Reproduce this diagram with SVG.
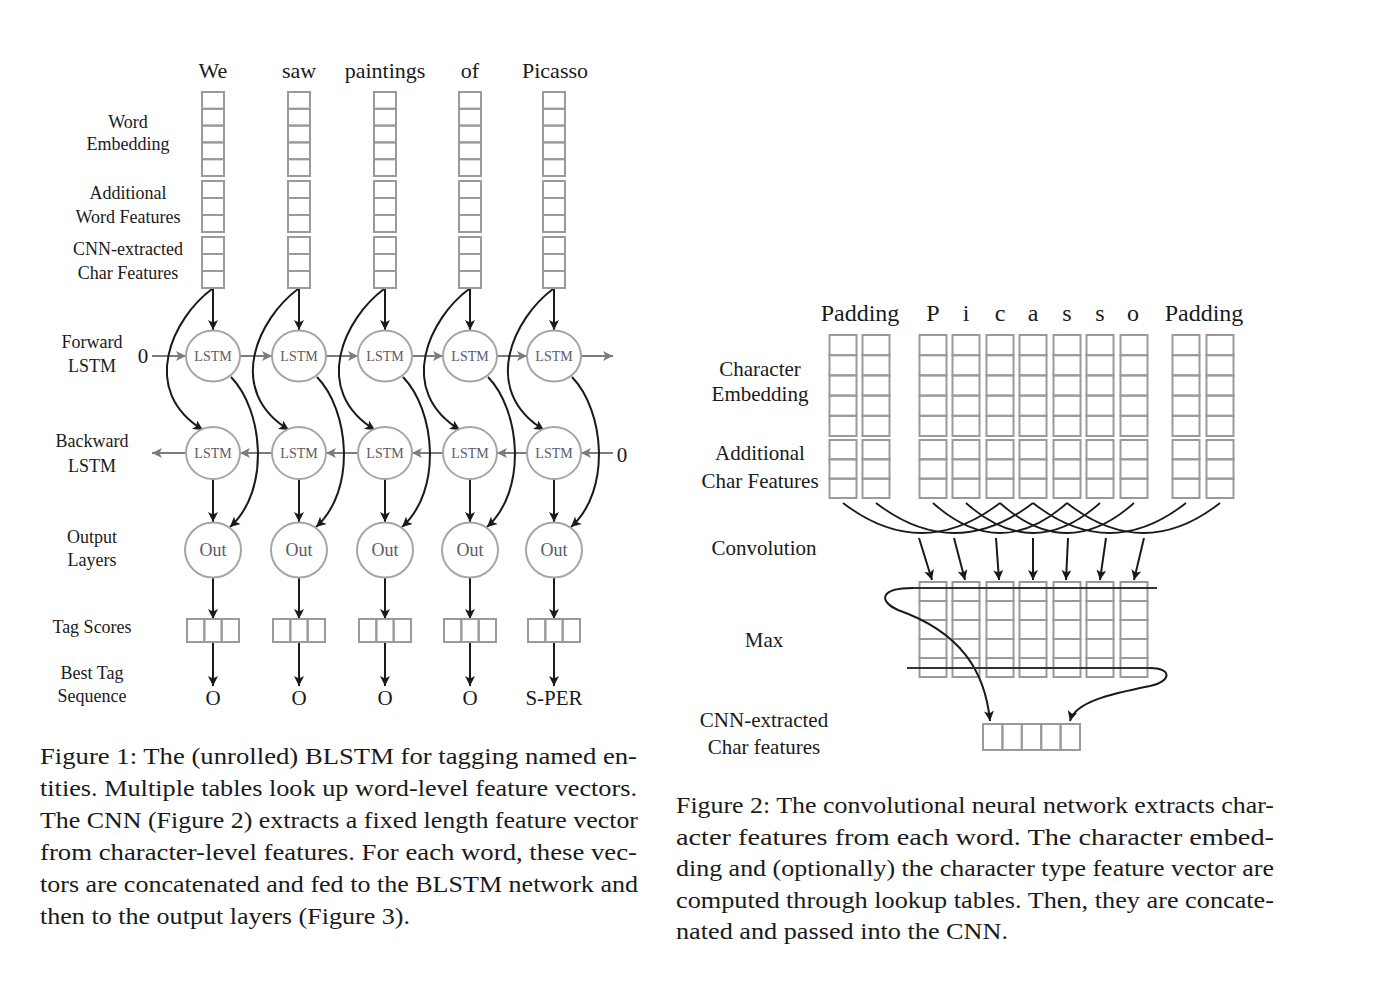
<svg xmlns="http://www.w3.org/2000/svg" xmlns:xlink="http://www.w3.org/1999/xlink" width="1390" height="982" viewBox="0 0 1390 982">
<style>
.cell{fill:none;stroke:#9a9a9a;stroke-width:2}
.node{fill:#fff;stroke:#a6a6a6;stroke-width:2}
.blk{fill:none;stroke:#1a1a1a;stroke-width:2;marker-end:url(#ab)}
.cv{fill:none;stroke:#1a1a1a;stroke-width:1.8}
.gry{fill:none;stroke:#7c7c7c;stroke-width:2;marker-end:url(#ag)}
.bar{fill:none;stroke:#333;stroke-width:2.2}
text{font-family:"Liberation Serif","DejaVu Serif",serif;fill:#1a1a1a}
.lab{font-size:18px;text-anchor:middle}
.rlab{font-size:21px;text-anchor:middle}
.wd{font-size:22px;text-anchor:middle}
.hd{font-size:24px;text-anchor:middle}
.in{font-size:14px;text-anchor:middle;fill:#5a5a6a}
.out{font-size:18px;text-anchor:middle;fill:#5a5a6a}
.tag{font-size:21px;text-anchor:middle}
.cap{font-size:23px}
</style>
<defs>
<marker id="ab" viewBox="0 0 10 10" refX="10" refY="5" markerWidth="11" markerHeight="10" markerUnits="userSpaceOnUse" orient="auto"><path d="M0,0 L10,5 L0,10 L2.5,5 z" fill="#1a1a1a"/></marker>
<marker id="ag" viewBox="0 0 10 10" refX="10" refY="5" markerWidth="11" markerHeight="10" markerUnits="userSpaceOnUse" orient="auto"><path d="M0,0 L10,5 L0,10 L2.5,5 z" fill="#7c7c7c"/></marker>
<g id="wcol">
<rect class="cell" x="-11" y="92" width="22" height="16.8"/><rect class="cell" x="-11" y="108.8" width="22" height="16.8"/><rect class="cell" x="-11" y="125.6" width="22" height="16.8"/><rect class="cell" x="-11" y="142.4" width="22" height="16.8"/><rect class="cell" x="-11" y="159.2" width="22" height="16.8"/>
<rect class="cell" x="-11" y="181" width="22" height="17"/><rect class="cell" x="-11" y="198" width="22" height="17"/><rect class="cell" x="-11" y="215" width="22" height="17"/>
<rect class="cell" x="-11" y="237" width="22" height="17"/><rect class="cell" x="-11" y="254" width="22" height="17"/><rect class="cell" x="-11" y="271" width="22" height="17"/>
</g>
<g id="tbox"><rect class="cell" x="-26" y="619" width="17.33" height="23"/><rect class="cell" x="-8.67" y="619" width="17.33" height="23"/><rect class="cell" x="8.67" y="619" width="17.33" height="23"/></g>
<g id="ccol">
<rect class="cell" x="-13.5" y="335" width="27" height="20.2"/><rect class="cell" x="-13.5" y="355.2" width="27" height="20.2"/><rect class="cell" x="-13.5" y="375.4" width="27" height="20.2"/><rect class="cell" x="-13.5" y="395.6" width="27" height="20.2"/><rect class="cell" x="-13.5" y="415.8" width="27" height="20.2"/>
<rect class="cell" x="-13.5" y="440" width="27" height="19.33"/><rect class="cell" x="-13.5" y="459.33" width="27" height="19.33"/><rect class="cell" x="-13.5" y="478.67" width="27" height="19.33"/>
</g>
<g id="mcol"><rect class="cell" x="-13.5" y="582" width="27" height="19"/><rect class="cell" x="-13.5" y="601" width="27" height="19"/><rect class="cell" x="-13.5" y="620" width="27" height="19"/><rect class="cell" x="-13.5" y="639" width="27" height="19"/><rect class="cell" x="-13.5" y="658" width="27" height="19"/></g>
</defs>

<!-- ===== Figure 1 ===== -->
<g id="words">
<text class="wd" x="213" y="78">We</text><text class="wd" x="299" y="78">saw</text><text class="wd" x="385" y="78">paintings</text><text class="wd" x="470" y="78">of</text><text class="wd" x="555" y="78">Picasso</text>
</g>
<g id="left-labels">
<text class="lab" x="128" y="128">Word</text><text class="lab" x="128" y="150">Embedding</text>
<text class="lab" x="128" y="199">Additional</text><text class="lab" x="128" y="223">Word Features</text>
<text class="lab" x="128" y="255">CNN-extracted</text><text class="lab" x="128" y="279">Char Features</text>
<text class="lab" x="92" y="348">Forward</text><text class="lab" x="92" y="372">LSTM</text>
<text class="lab" x="92" y="447">Backward</text><text class="lab" x="92" y="472">LSTM</text>
<text class="lab" x="92" y="543">Output</text><text class="lab" x="92" y="566">Layers</text>
<text class="lab" x="92" y="633">Tag Scores</text>
<text class="lab" x="92" y="679">Best Tag</text><text class="lab" x="92" y="702">Sequence</text>
<text class="tag" x="143" y="363">0</text><text class="tag" x="622" y="462">0</text>
</g>

<g id="connectors-fig1">
<!-- forward chain -->
<path class="gry" d="M152,356 L186,356"/><path class="gry" d="M240,356 L272,356"/><path class="gry" d="M326,356 L358,356"/><path class="gry" d="M412,356 L443,356"/><path class="gry" d="M497,356 L527,356"/><path class="gry" d="M581,356 L613,356"/>
<!-- backward chain -->
<path class="gry" d="M613,453 L581,453"/><path class="gry" d="M527,453 L497,453"/><path class="gry" d="M443,453 L412,453"/><path class="gry" d="M358,453 L326,453"/><path class="gry" d="M272,453 L240,453"/><path class="gry" d="M186,453 L152,453"/>
<!-- per-column -->
<path class="blk" d="M213,288 L213,330"/><path class="blk" d="M212,289 C173,318 138,390 203,430"/><path class="blk" d="M231,377 C263,410 271,490 230,527"/><path class="blk" d="M213,479 L213,522"/><path class="blk" d="M213,578 L213,619"/><path class="blk" d="M213,642 L213,686"/>
<path class="blk" d="M299,288 L299,330"/><path class="blk" d="M298,289 C259,318 224,390 289,430"/><path class="blk" d="M317,377 C349,410 357,490 316,527"/><path class="blk" d="M299,479 L299,522"/><path class="blk" d="M299,578 L299,619"/><path class="blk" d="M299,642 L299,686"/>
<path class="blk" d="M385,288 L385,330"/><path class="blk" d="M384,289 C345,318 310,390 375,430"/><path class="blk" d="M403,377 C435,410 443,490 402,527"/><path class="blk" d="M385,479 L385,522"/><path class="blk" d="M385,578 L385,619"/><path class="blk" d="M385,642 L385,686"/>
<path class="blk" d="M470,288 L470,330"/><path class="blk" d="M469,289 C430,318 395,390 460,430"/><path class="blk" d="M488,377 C520,410 528,490 487,527"/><path class="blk" d="M470,479 L470,522"/><path class="blk" d="M470,578 L470,619"/><path class="blk" d="M470,642 L470,686"/>
<path class="blk" d="M554,288 L554,330"/><path class="blk" d="M553,289 C514,318 479,390 544,430"/><path class="blk" d="M572,377 C604,410 612,490 571,527"/><path class="blk" d="M554,479 L554,522"/><path class="blk" d="M554,578 L554,619"/><path class="blk" d="M554,642 L554,686"/>
</g>

<g id="col-we"><use xlink:href="#wcol" href="#wcol" x="213"/></g>
<g id="col-saw"><use xlink:href="#wcol" href="#wcol" x="299"/></g>
<g id="col-paintings"><use xlink:href="#wcol" href="#wcol" x="385"/></g>
<g id="col-of"><use xlink:href="#wcol" href="#wcol" x="470"/></g>
<g id="col-picasso"><use xlink:href="#wcol" href="#wcol" x="554"/></g>

<g id="fwd-1"><ellipse class="node" cx="213" cy="356" rx="27" ry="25.5"/><text class="in" x="213" y="361">LSTM</text></g>
<g id="fwd-2"><ellipse class="node" cx="299" cy="356" rx="27" ry="25.5"/><text class="in" x="299" y="361">LSTM</text></g>
<g id="fwd-3"><ellipse class="node" cx="385" cy="356" rx="27" ry="25.5"/><text class="in" x="385" y="361">LSTM</text></g>
<g id="fwd-4"><ellipse class="node" cx="470" cy="356" rx="27" ry="25.5"/><text class="in" x="470" y="361">LSTM</text></g>
<g id="fwd-5"><ellipse class="node" cx="554" cy="356" rx="27" ry="25.5"/><text class="in" x="554" y="361">LSTM</text></g>

<g id="bwd-1"><ellipse class="node" cx="213" cy="453" rx="27" ry="26"/><text class="in" x="213" y="458">LSTM</text></g>
<g id="bwd-2"><ellipse class="node" cx="299" cy="453" rx="27" ry="26"/><text class="in" x="299" y="458">LSTM</text></g>
<g id="bwd-3"><ellipse class="node" cx="385" cy="453" rx="27" ry="26"/><text class="in" x="385" y="458">LSTM</text></g>
<g id="bwd-4"><ellipse class="node" cx="470" cy="453" rx="27" ry="26"/><text class="in" x="470" y="458">LSTM</text></g>
<g id="bwd-5"><ellipse class="node" cx="554" cy="453" rx="27" ry="26"/><text class="in" x="554" y="458">LSTM</text></g>

<g id="out-1"><ellipse class="node" cx="213" cy="550" rx="28" ry="27.5"/><text class="out" x="213" y="556">Out</text></g>
<g id="out-2"><ellipse class="node" cx="299" cy="550" rx="28" ry="27.5"/><text class="out" x="299" y="556">Out</text></g>
<g id="out-3"><ellipse class="node" cx="385" cy="550" rx="28" ry="27.5"/><text class="out" x="385" y="556">Out</text></g>
<g id="out-4"><ellipse class="node" cx="470" cy="550" rx="28" ry="27.5"/><text class="out" x="470" y="556">Out</text></g>
<g id="out-5"><ellipse class="node" cx="554" cy="550" rx="28" ry="27.5"/><text class="out" x="554" y="556">Out</text></g>

<g id="tag-1"><use xlink:href="#tbox" href="#tbox" x="213"/><text class="tag" x="213" y="705">O</text></g>
<g id="tag-2"><use xlink:href="#tbox" href="#tbox" x="299"/><text class="tag" x="299" y="705">O</text></g>
<g id="tag-3"><use xlink:href="#tbox" href="#tbox" x="385"/><text class="tag" x="385" y="705">O</text></g>
<g id="tag-4"><use xlink:href="#tbox" href="#tbox" x="470"/><text class="tag" x="470" y="705">O</text></g>
<g id="tag-5"><use xlink:href="#tbox" href="#tbox" x="554"/><text class="tag" x="554" y="705">S-PER</text></g>

<g id="caption-1">
<text class="cap" x="40" y="764" textLength="597" lengthAdjust="spacingAndGlyphs">Figure 1: The (unrolled) BLSTM for tagging named en-</text>
<text class="cap" x="40" y="796" textLength="597" lengthAdjust="spacingAndGlyphs">tities. Multiple tables look up word-level feature vectors.</text>
<text class="cap" x="40" y="828" textLength="598" lengthAdjust="spacingAndGlyphs">The CNN (Figure 2) extracts a fixed length feature vector</text>
<text class="cap" x="40" y="860" textLength="597" lengthAdjust="spacingAndGlyphs">from character-level features. For each word, these vec-</text>
<text class="cap" x="40" y="892" textLength="598" lengthAdjust="spacingAndGlyphs">tors are concatenated and fed to the BLSTM network and</text>
<text class="cap" x="40" y="924" textLength="370" lengthAdjust="spacingAndGlyphs">then to the output layers (Figure 3).</text>
</g>

<!-- ===== Figure 2 ===== -->
<g id="headings">
<text class="hd" x="860" y="321">Padding</text>
<text class="hd" x="933" y="321">P</text><text class="hd" x="966" y="321">i</text><text class="hd" x="1000" y="321">c</text><text class="hd" x="1033" y="321">a</text><text class="hd" x="1067" y="321">s</text><text class="hd" x="1100" y="321">s</text><text class="hd" x="1133" y="321">o</text>
<text class="hd" x="1204" y="321">Padding</text>
</g>
<g id="right-labels">
<text class="rlab" x="760" y="376">Character</text><text class="rlab" x="760" y="401">Embedding</text>
<text class="rlab" x="760" y="460">Additional</text><text class="rlab" x="760" y="488">Char Features</text>
<text class="rlab" x="764" y="555">Convolution</text>
<text class="rlab" x="764" y="647">Max</text>
<text class="rlab" x="764" y="727">CNN-extracted</text><text class="rlab" x="764" y="754">Char features</text>
</g>

<g id="char-pad1"><use xlink:href="#ccol" href="#ccol" x="843"/></g>
<g id="char-pad2"><use xlink:href="#ccol" href="#ccol" x="876"/></g>
<g id="char-P"><use xlink:href="#ccol" href="#ccol" x="933"/></g>
<g id="char-i"><use xlink:href="#ccol" href="#ccol" x="966"/></g>
<g id="char-c"><use xlink:href="#ccol" href="#ccol" x="1000"/></g>
<g id="char-a"><use xlink:href="#ccol" href="#ccol" x="1033"/></g>
<g id="char-s1"><use xlink:href="#ccol" href="#ccol" x="1067"/></g>
<g id="char-s2"><use xlink:href="#ccol" href="#ccol" x="1100"/></g>
<g id="char-o"><use xlink:href="#ccol" href="#ccol" x="1134"/></g>
<g id="char-pad3"><use xlink:href="#ccol" href="#ccol" x="1186"/></g>
<g id="char-pad4"><use xlink:href="#ccol" href="#ccol" x="1220"/></g>

<g id="max-1"><use xlink:href="#mcol" href="#mcol" x="933"/></g>
<g id="max-2"><use xlink:href="#mcol" href="#mcol" x="966"/></g>
<g id="max-3"><use xlink:href="#mcol" href="#mcol" x="1000"/></g>
<g id="max-4"><use xlink:href="#mcol" href="#mcol" x="1033"/></g>
<g id="max-5"><use xlink:href="#mcol" href="#mcol" x="1067"/></g>
<g id="max-6"><use xlink:href="#mcol" href="#mcol" x="1100"/></g>
<g id="max-7"><use xlink:href="#mcol" href="#mcol" x="1134"/></g>

<g id="cnn-out">
<rect class="cell" x="983" y="724" width="19.4" height="26"/><rect class="cell" x="1002.4" y="724" width="19.4" height="26"/><rect class="cell" x="1021.8" y="724" width="19.4" height="26"/><rect class="cell" x="1041.2" y="724" width="19.4" height="26"/><rect class="cell" x="1060.6" y="724" width="19.4" height="26"/>
</g>

<g id="connectors-fig2">
<path class="cv" d="M843,503 Q921.5,563 1000,503"/>
<path class="cv" d="M876,503 Q954.5,563 1033,503"/>
<path class="cv" d="M933,503 Q1000,563 1067,503"/>
<path class="cv" d="M966,503 Q1033,563 1100,503"/>
<path class="cv" d="M1000,503 Q1067,563 1134,503"/>
<path class="cv" d="M1033,503 Q1109.5,563 1186,503"/>
<path class="cv" d="M1067,503 Q1143.5,563 1220,503"/>
<path class="blk" d="M919,538 L932,580"/>
<path class="blk" d="M954,538 L965,580"/>
<path class="blk" d="M996,538 L999,580"/>
<path class="blk" d="M1033,538 L1033,580"/>
<path class="blk" d="M1068,538 L1066,580"/>
<path class="blk" d="M1106,538 L1100,580"/>
<path class="blk" d="M1144,538 L1134,580"/>
<path class="bar" d="M1157,588 L913,588"/>
<path class="blk" d="M913,588 C880,588 878,601 898,610 C960,632 985,670 990,721"/>
<path class="bar" d="M907,668 L1150,668"/>
<path class="blk" d="M1150,668 C1172,668 1172,681 1150,686 C1110,694 1075,702 1070,721"/>
</g>

<g id="caption-2">
<text class="cap" x="676" y="813" textLength="598" lengthAdjust="spacingAndGlyphs">Figure 2: The convolutional neural network extracts char-</text>
<text class="cap" x="676" y="845" textLength="598" lengthAdjust="spacingAndGlyphs">acter features from each word.  The character embed-</text>
<text class="cap" x="676" y="876" textLength="598" lengthAdjust="spacingAndGlyphs">ding and (optionally) the character type feature vector are</text>
<text class="cap" x="676" y="908" textLength="598" lengthAdjust="spacingAndGlyphs">computed through lookup tables. Then, they are concate-</text>
<text class="cap" x="676" y="939" textLength="332" lengthAdjust="spacingAndGlyphs">nated and passed into the CNN.</text>
</g>
</svg>
